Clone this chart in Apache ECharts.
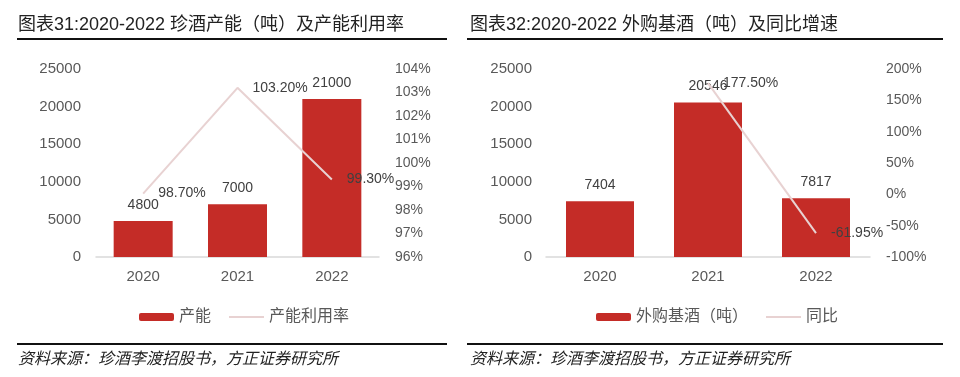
<!DOCTYPE html>
<html>
<head>
<meta charset="utf-8">
<script src="https://cdn.jsdelivr.net/npm/echarts@6/dist/echarts.min.js"></script>
<style>
  html, body { margin: 0; padding: 0; background: #fff; }
  #chart { width: 960px; height: 377px; }
</style>
</head>
<body>
<div id="chart"></div>
<script>
// 数据
const years = ['2020', '2021', '2022']
const capacity = [4800, 7000, 21000]          // 产能（吨）
const utilization = [98.7, 103.2, 99.3]       // 产能利用率 %
const baseLiquor = [7404, 20546, 7817]        // 外购基酒（吨）
const yoy = [null, 177.5, -61.95]             // 同比 %

const titleLeft = '图表31:2020-2022 珍酒产能（吨）及产能利用率'
const titleRight = '图表32:2020-2022 外购基酒（吨）及同比增速'
const sourceText = '资料来源：珍酒李渡招股书，方正证券研究所'

const barColor = '#c42c27'
const lineColor = '#e8d2d2'
const axisText = '#595959'
const labelText = '#404040'
const cjk = 'Arial, "Liberation Sans", "Noto Sans CJK SC", sans-serif'
const titleFont = '18px Arial, "Liberation Sans", "Noto Sans CJK SC", sans-serif'

const chart = echarts.init(document.getElementById('chart'))

function pct(p) {
  return p.value.toFixed(2) + '%'
}

function valueAxis(gridIndex, min, max, interval, fmt, margin, size) {
  return {
    type: 'value',
    gridIndex: gridIndex,
    min: min,
    max: max,
    interval: interval,
    splitLine: { show: false },
    axisLine: { show: false },
    axisTick: { show: false },
    axisLabel: {
      color: axisText,
      fontSize: size,
      fontFamily: cjk,
      margin: margin,
      formatter: fmt
    }
  }
}

function catAxis(gridIndex) {
  return {
    type: 'category',
    gridIndex: gridIndex,
    data: years,
    axisTick: { show: false },
    axisLine: { lineStyle: { color: '#d9d9d9', width: 1.5 } },
    axisLabel: { color: axisText, fontSize: 15, fontFamily: cjk, margin: 12 }
  }
}

function barSeries(name, data, xi, yi, width) {
  return {
    name: name,
    type: 'bar',
    xAxisIndex: xi,
    yAxisIndex: yi,
    data: data,
    barWidth: width,
    itemStyle: { color: barColor },
    label: {
      show: true,
      position: 'top',
      distance: 9,
      color: labelText,
      fontSize: 14,
      fontFamily: cjk
    },
    z: 2
  }
}

function lineSeries(name, data, xi, yi) {
  return {
    name: name,
    type: 'line',
    xAxisIndex: xi,
    yAxisIndex: yi,
    data: data,
    symbol: 'circle',
    symbolSize: 2,
    itemStyle: { color: 'rgba(0,0,0,0)' },
    lineStyle: { color: lineColor, width: 2 },
    label: {
      show: true,
      position: 'right',
      distance: 14,
      color: labelText,
      fontSize: 14,
      fontFamily: cjk,
      formatter: pct
    },
    z: 3
  }
}

const plain = v => String(v)
const percent = v => v + '%'

const option = {
  animation: false,
  backgroundColor: '#fff',
  grid: [
    { left: 96, right: 581, top: 69, bottom: 120 },
    { left: 546, right: 90, top: 69, bottom: 120 }
  ],
  xAxis: [catAxis(0), catAxis(1)],
  yAxis: [
    valueAxis(0, 0, 25000, 5000, plain, 15, 15),
    valueAxis(0, 96, 104, 1, percent, 16, 14),
    valueAxis(1, 0, 25000, 5000, plain, 14, 15),
    valueAxis(1, -100, 200, 50, percent, 16, 14)
  ],
  legend: [
    {
      data: ['产能', '产能利用率'],
      left: 134,
      top: 304,
      itemWidth: 35,
      itemHeight: 8,
      itemGap: 17,
      textStyle: { color: axisText, fontSize: 16, fontFamily: cjk }
    },
    {
      data: ['外购基酒（吨）', '同比'],
      left: 591,
      top: 304,
      itemWidth: 35,
      itemHeight: 8,
      itemGap: 17,
      textStyle: { color: axisText, fontSize: 16, fontFamily: cjk }
    }
  ],
  series: [
    barSeries('产能', capacity, 0, 0, 59),
    lineSeries('产能利用率', utilization, 0, 1),
    barSeries('外购基酒（吨）', baseLiquor, 1, 2, 68),
    lineSeries('同比', yoy, 1, 3)
  ],
  graphic: [
    {
      type: 'text', left: 18, top: 16,
      style: { text: titleLeft, fill: '#222', font: titleFont }
    },
    {
      type: 'text', left: 470, top: 16,
      style: { text: titleRight, fill: '#222', font: titleFont }
    },
    { type: 'rect', shape: { x: 17, y: 38, width: 430, height: 2 }, style: { fill: '#111' } },
    { type: 'rect', shape: { x: 467, y: 38, width: 476, height: 2 }, style: { fill: '#111' } },
    { type: 'rect', shape: { x: 17, y: 343, width: 430, height: 2 }, style: { fill: '#111' } },
    { type: 'rect', shape: { x: 467, y: 343, width: 476, height: 2 }, style: { fill: '#111' } },
    {
      type: 'text', left: 18, top: 350,
      style: { text: sourceText, fill: '#222', font: 'italic 16px "Noto Sans CJK SC", serif' }
    },
    {
      type: 'text', left: 470, top: 350,
      style: { text: sourceText, fill: '#222', font: 'italic 16px "Noto Sans CJK SC", serif' }
    }
  ]
}

chart.setOption(option)
</script>
</body>
</html>
